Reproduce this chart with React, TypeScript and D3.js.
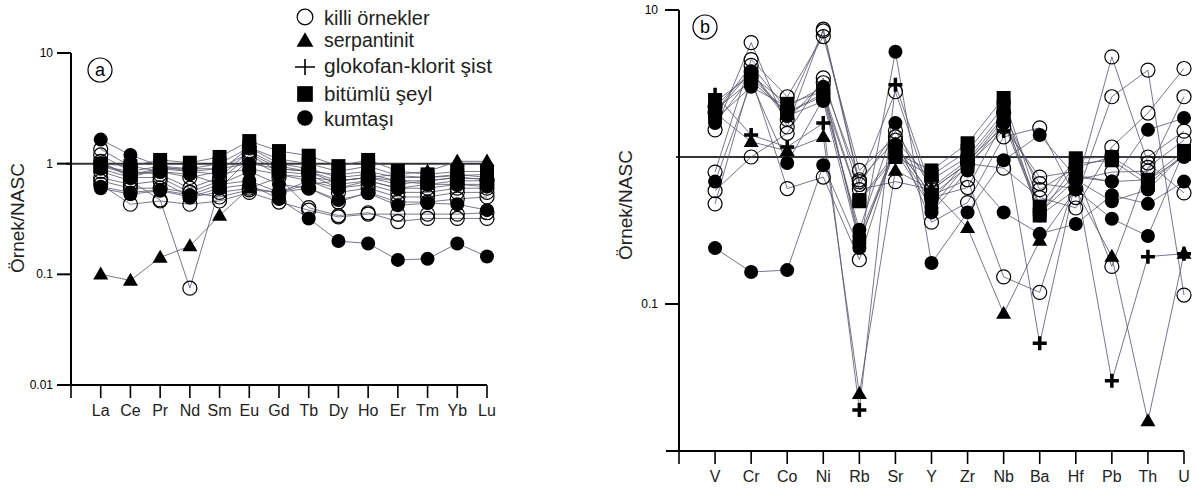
import React from "react";
import * as d3 from "d3";

// ---------- categories ----------
const reeElements = ["La", "Ce", "Pr", "Nd", "Sm", "Eu", "Gd", "Tb", "Dy", "Ho", "Er", "Tm", "Yb", "Lu"];
const traceElements = ["V", "Cr", "Co", "Ni", "Rb", "Sr", "Y", "Zr", "Nb", "Ba", "Hf", "Pb", "Th", "U"];
const yTicksA = [10, 1, 0.1, 0.01];
const yTicksB = [10, 0.1];
const legendLabels = ["killi örnekler", "serpantinit", "glokofan-klorit şist", "bitümlü şeyl", "kumtaşı"];

// ---------- panel a (REE / NASC) ----------
const reeKilli1 = [1.35, 0.95, 0.85, 0.75, 0.85, 1.4, 1.0, 0.9, 0.75, 0.8, 0.7, 0.65, 0.7, 0.7];
const reeKilli2 = [1.2, 0.85, 0.8, 0.6, 0.75, 1.3, 0.95, 0.85, 0.65, 0.7, 0.6, 0.6, 0.65, 0.65];
const reeKilli3 = [1.05, 0.75, 0.75, 0.55, 0.7, 1.2, 0.85, 0.8, 0.6, 0.65, 0.55, 0.55, 0.6, 0.6];
const reeKilli4 = [0.85, 0.7, 0.47, 0.075, 0.6, 1.1, 0.8, 0.7, 0.55, 0.6, 0.5, 0.5, 0.55, 0.55];
const reeKilli5 = [0.75, 0.65, 0.7, 0.5, 0.55, 0.6, 0.75, 0.4, 0.34, 0.36, 0.3, 0.32, 0.32, 0.32];
const reeKilli6 = [0.65, 0.43, 0.46, 0.43, 0.46, 0.55, 0.45, 0.38, 0.33, 0.35, 0.35, 0.35, 0.35, 0.36];
const reeKilli7 = [0.95, 0.8, 0.9, 0.9, 0.9, 1.25, 0.9, 0.85, 0.7, 0.75, 0.65, 0.7, 0.75, 0.72];
const reeKilli8 = [0.7, 0.6, 0.6, 0.55, 0.5, 0.58, 0.55, 0.6, 0.45, 0.55, 0.45, 0.45, 0.48, 0.5];
const reeKum1 = [1.65, 1.2, 0.95, 0.85, 0.8, 0.9, 0.8, 0.75, 0.7, 0.75, 0.7, 0.7, 0.75, 0.72];
const reeKum2 = [0.6, 0.53, 0.57, 0.5, 0.6, 0.65, 0.48, 0.32, 0.2, 0.19, 0.135, 0.138, 0.19, 0.145];
const reeKum3 = [0.62, 0.55, 0.58, 0.52, 0.65, 0.85, 0.65, 0.6, 0.47, 0.54, 0.42, 0.44, 0.43, 0.38];
const reeKum4 = [1.0, 0.8, 0.85, 0.8, 0.65, 0.7, 0.55, 0.7, 0.6, 0.7, 0.6, 0.65, 0.65, 0.62];
const reeKum5 = [0.9, 0.75, 0.9, 0.85, 0.9, 1.0, 0.9, 0.85, 0.8, 0.85, 0.75, 0.75, 0.8, 0.75];
const reeBit1 = [1.0, 0.95, 1.08, 1.02, 1.15, 1.6, 1.3, 1.18, 0.95, 1.08, 0.86, 0.8, 0.85, 0.85];
const reeBit2 = [0.95, 0.85, 0.95, 0.9, 1.0, 1.4, 1.1, 1.0, 0.85, 0.95, 0.78, 0.75, 0.78, 0.8];
const reeSerp = [0.1, 0.088, 0.142, 0.18, 0.34, 0.6, 0.55, 0.65, 0.7, 0.75, 0.8, 0.85, 1.05, 1.05];

// ---------- panel b (trace / NASC) ----------
const trKilli1 = [1.53, 6.0, 1.6, 7.4, 0.68, 2.78, 0.53, 0.62, 1.73, 0.66, 0.61, 4.8, 0.91, 0.57];
const trKilli2 = [0.79, 4.6, 2.57, 6.6, 0.81, 1.37, 0.36, 0.49, 1.37, 1.58, 0.53, 2.57, 3.9, 0.115];
const trKilli3 = [0.59, 1.0, 1.45, 3.45, 0.6, 0.68, 0.6, 0.9, 0.84, 0.53, 0.45, 1.17, 1.99, 4.0];
const trKilli4 = [0.48, 3.5, 0.61, 0.73, 0.2, 1.2, 0.55, 0.7, 0.153, 0.12, 0.7, 0.79, 0.8, 2.57];
const trKilli5 = [2.0, 4.2, 2.1, 7.2, 0.65, 1.5, 0.62, 0.95, 1.6, 0.73, 0.8, 0.18, 0.85, 1.3];
const trKilli6 = [2.2, 3.8, 1.8, 3.2, 0.7, 1.3, 0.7, 1.0, 2.0, 0.6, 0.85, 1.0, 1.0, 1.5];
const trKum1 = [0.24, 0.165, 0.17, 0.88, 0.24, 5.2, 0.19, 0.42, 0.95, 1.41, 0.73, 0.68, 1.53, 1.84];
const trKum2 = [0.68, 3.2, 0.91, 2.5, 0.32, 1.7, 0.42, 0.81, 0.42, 0.3, 0.35, 0.55, 0.48, 0.68];
const trKum3 = [1.7, 3.5, 2.0, 2.7, 0.29, 1.15, 0.5, 0.95, 1.88, 0.4, 0.6, 0.38, 0.29, 1.1];
const trKum4 = [1.8, 3.0, 2.2, 3.0, 0.27, 1.1, 0.45, 0.9, 1.8, 0.45, 0.75, 0.68, 0.7, 1.0];
const trKum5 = [2.0, 3.8, 1.9, 2.4, 0.26, 1.2, 0.55, 0.85, 1.7, 0.42, 0.7, 0.5, 0.6, 1.05];
const trBit1 = [2.37, 3.6, 2.3, 2.8, 0.51, 1.06, 0.81, 1.24, 2.52, 0.46, 0.98, 1.0, 0.7, 1.1];
const trBit2 = [2.09, 3.3, 2.0, 2.6, 0.5, 1.0, 0.75, 1.1, 2.2, 0.4, 0.9, 0.95, 0.65, 1.05];
const trGlok = [2.65, 1.41, 1.17, 1.7, 0.019, 3.1, 0.6, 0.9, 1.5, 0.054, 0.7, 0.03, 0.21, 0.22];
const trSerp = [2.0, 1.27, 1.1, 1.37, 0.0245, 0.81, 0.6, 0.33, 0.086, 0.27, 0.6, 0.21, 0.016, 0.22];

type MType = "open" | "filled" | "square" | "triangle" | "plus";
type Series = { type: MType; values: number[] };

const panelASeries: Series[] = [
  { type: "open", values: reeKilli1 }, { type: "open", values: reeKilli2 },
  { type: "open", values: reeKilli3 }, { type: "open", values: reeKilli4 },
  { type: "open", values: reeKilli5 }, { type: "open", values: reeKilli6 },
  { type: "open", values: reeKilli7 }, { type: "open", values: reeKilli8 },
  { type: "square", values: reeBit1 }, { type: "square", values: reeBit2 },
  { type: "filled", values: reeKum1 }, { type: "filled", values: reeKum2 },
  { type: "filled", values: reeKum3 }, { type: "filled", values: reeKum4 },
  { type: "filled", values: reeKum5 }, { type: "triangle", values: reeSerp },
];
const panelBSeries: Series[] = [
  { type: "open", values: trKilli1 }, { type: "open", values: trKilli2 },
  { type: "open", values: trKilli3 }, { type: "open", values: trKilli4 },
  { type: "open", values: trKilli5 }, { type: "open", values: trKilli6 },
  { type: "square", values: trBit1 }, { type: "square", values: trBit2 },
  { type: "filled", values: trKum1 }, { type: "filled", values: trKum2 },
  { type: "filled", values: trKum3 }, { type: "filled", values: trKum4 },
  { type: "filled", values: trKum5 }, { type: "triangle", values: trSerp },
  { type: "plus", values: trGlok },
];
const legendTypes: MType[] = ["open", "triangle", "plus", "square", "filled"];

const FONT = "'Liberation Sans', Arial, Helvetica, sans-serif";
const LINE = "#55556a";

function Marker({ type, x, y, s = 1 }: { type: MType; x: number; y: number; s?: number }) {
  if (type === "open") return <circle cx={x} cy={y} r={7 * s} fill="none" stroke="#000" strokeWidth={1.2} />;
  if (type === "filled") return <circle cx={x} cy={y} r={7 * s} fill="#000" />;
  if (type === "square") return <rect x={x - 7 * s} y={y - 7 * s} width={14 * s} height={14 * s} fill="#000" />;
  if (type === "triangle") {
    const h = 13 * s, w = 15 * s;
    return <path d={`M${x},${y - h * 0.6}L${x + w / 2},${y + h * 0.4}L${x - w / 2},${y + h * 0.4}Z`} fill="#000" />;
  }
  const a = 7 * s;
  return <path d={`M${x - a},${y}H${x + a}M${x},${y - a}V${y + a}`} stroke="#000" strokeWidth={3.5} />;
}

function Panel({ cats, series, x0, x1, yTop, yBot, ticks, tickLabelEnd, labelBaseline, title, titleX, titleY, letter, letterX, letterY, refLineX0 }: any) {
  const x = d3.scaleLinear().domain([0, cats.length]).range([x0, x1]);
  const y = d3.scaleLog().domain([0.01, 10]).range([yBot, yTop]);
  const line = d3.line<number>().x((_, i) => x(i + 1)).y((d) => y(d));
  const order: MType[] = ["open", "square", "filled", "triangle", "plus"];
  return (
    <g fontFamily={FONT}>
      <line x1={refLineX0} x2={x1 + 3} y1={y(1)} y2={y(1)} stroke="#333" strokeWidth={2} />
      {series.map((s: Series, i: number) => (
        <path key={"l" + i} d={line(s.values) || ""} fill="none" stroke={LINE} strokeWidth={0.8} />
      ))}
      {order.map((t) =>
        series.filter((s: Series) => s.type === t).map((s: Series, i: number) =>
          s.values.map((v, j) => <Marker key={t + i + "-" + j} type={t} x={x(j + 1)} y={y(v)} />)
        )
      )}
      <line x1={x0} x2={x0} y1={yTop} y2={yBot} stroke="#000" strokeWidth={2} />
      <line x1={x0 - 13} x2={x1} y1={yBot} y2={yBot} stroke="#000" strokeWidth={2} />
      {ticks.map((t: number) => (
        <g key={"yt" + t}>
          <line x1={x0 - 14} x2={x0} y1={y(t)} y2={y(t)} stroke="#000" strokeWidth={2} />
          <text x={tickLabelEnd} y={y(t) + 4} fontSize={12} textAnchor="end">{t}</text>
        </g>
      ))}
      {d3.range(cats.length + 1).map((i) => (
        <line key={"xt" + i} x1={x(i)} x2={x(i)} y1={yBot} y2={yBot + 13} stroke="#000" strokeWidth={1.6} />
      ))}
      {cats.map((c: string, i: number) => (
        <text key={c} x={x(i + 1)} y={labelBaseline} fontSize={16} textAnchor="middle" fill="#222">{c}</text>
      ))}
      <text transform={`translate(${titleX},${titleY}) rotate(-90)`} fontSize={19} textAnchor="middle" fill="#222">{title}</text>
      <circle cx={letterX} cy={letterY} r={12} fill="none" stroke="#000" strokeWidth={1.2} />
      <text x={letterX} y={letterY + 6} fontSize={18} textAnchor="middle">{letter}</text>
    </g>
  );
}

export default function App() {
  const symY = [17, 41, 67, 94, 118];
  const baseY = [25, 47, 73, 101, 126];
  const legendSize = [20, 19.5, 21, 20.5, 20];
  return (
    <svg width={1198} height={488} style={{ position: "absolute", left: 0, top: 0, background: "#fff" }}>
      <rect width={1198} height={488} fill="#fff" />
      <Panel cats={reeElements} series={panelASeries} x0={71} x1={487} yTop={53} yBot={385}
        ticks={yTicksA} tickLabelEnd={53} labelBaseline={416} title="Örnek/NASC" titleX={24} titleY={218}
        letter="a" letterX={100} letterY={70} refLineX0={66} />
      <Panel cats={traceElements} series={panelBSeries} x0={679} x1={1184} yTop={10} yBot={451}
        ticks={yTicksB} tickLabelEnd={658} labelBaseline={482} title="Örnek/NASC" titleX={632} titleY={205}
        letter="b" letterX={705} letterY={27} refLineX0={676} />
      <g fontFamily={FONT}>
        {legendLabels.map((l, i) => (
          <g key={l}>
            {legendTypes[i] === "plus" ? (
              <path d={`M295,${symY[i]}H315M305,${symY[i] - 8}V${symY[i] + 8}`} stroke="#000" strokeWidth={1.6} />
            ) : (
              <Marker type={legendTypes[i]} x={305} y={symY[i]} s={1.12} />
            )}
            <text x={324} y={baseY[i]} fontSize={legendSize[i]} fill="#222">{l}</text>
          </g>
        ))}
      </g>
    </svg>
  );
}
